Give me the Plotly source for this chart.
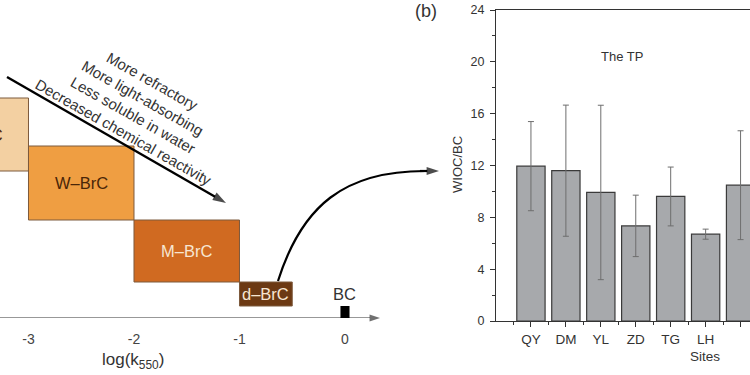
import plotly.graph_objects as go

W, H = 750, 375

# ---------------- Panel (a): BrC classes on a log(k550) scale ----------------
classes = ["VL–BrC", "W–BrC", "M–BrC", "d–BrC"]
logk_low = [-4.0, -3.0, -2.0, -1.0]
logk_high = [-3.0, -2.0, -1.0, -0.5]
level_low = [147, 98, 36, 12]      # schematic vertical stacking (arbitrary units)
level_high = [220, 172, 98, 36]
class_colors = ["#F3D0A2", "#EF9E42", "#D06A21", "#6C3913"]
label_colors = ["#4A2608", "#4A2608", "#F7E6D2", "#F7E6D2"]
bc_logk = 0.0
bc_half_width = 0.043
bc_height = 12
logk_ticks = [-3, -2, -1, 0]
trend_lines = ["More refractory", "More light-absorbing",
               "Less soluble in water", "Decreased chemical reactivity"]

# ---------------- Panel (b): WIOC/BC at TP sites ----------------
sites = ["QY", "DM", "YL", "ZD", "TG", "LH", "Dun"]
wioc_bc = [11.95, 11.6, 9.92, 7.34, 9.61, 6.70, 10.48]
wioc_bc_sd = [3.44, 5.06, 6.73, 2.37, 2.27, 0.39, 4.2]
y_ticks = [0, 4, 8, 12, 16, 20, 24]

FONT = "Liberation Sans, Arial, sans-serif"
TXT = "#333333"

PPU = 105.5                 # pixels per log unit in panel (a)
XMIN = -3.27
A_WIDTH = 450
XMAX = XMIN + A_WIDTH / PPU
YMAX_A = 318


def px(x, y):
    """pixel position -> paper coordinates"""
    return x / W, 1 - y / H


def ka(x, y):
    """pixel position -> panel (a) data coordinates"""
    return XMIN + x / PPU, YMAX_A - y


def note(**kw):
    base = dict(showarrow=False, xanchor="center", yanchor="middle")
    base.update(kw)
    return base


fig = go.Figure()

# log(k) axis with arrow
ax1 = ka(380, 318)
fig.add_trace(go.Scatter(x=[XMIN, ax1[0]], y=[0, 0], mode="lines+markers",
                         line=dict(color="#333333", width=1.2),
                         marker=dict(symbol=["circle", "arrow"], size=[0, 11], angleref="previous",
                                     color="#333333", line=dict(width=0)),
                         hoverinfo="skip", showlegend=False, xaxis="x", yaxis="y",
                         cliponaxis=False))

# trend arrow
t0 = ka(7, 77); t1 = ka(226, 203)
fig.add_trace(go.Scatter(x=[t0[0], t1[0]], y=[t0[1], t1[1]], mode="lines+markers",
                         line=dict(color="black", width=2.4),
                         marker=dict(symbol=["circle", "arrow"], size=[0, 14], angleref="previous",
                                     color="black", line=dict(width=0)),
                         hoverinfo="skip", showlegend=False, xaxis="x", yaxis="y",
                         cliponaxis=False))

# arrowhead of the curved connector
e1 = ka(439, 171); e0 = ka(420, 171)
fig.add_trace(go.Scatter(x=[e0[0], e1[0]], y=[e0[1], e1[1]], mode="lines+markers",
                         line=dict(color="black", width=2.2),
                         marker=dict(symbol=["circle", "arrow"], size=[0, 13], angleref="previous",
                                     color="black", line=dict(width=0)),
                         hoverinfo="skip", showlegend=False, xaxis="x", yaxis="y",
                         cliponaxis=False))

positions = list(range(len(sites)))
fig.add_trace(go.Bar(
    x=positions, y=wioc_bc, width=0.81,
    marker=dict(color="#A7A9AC", line=dict(color="#3A3A3A", width=1.2)),
    error_y=dict(type="data", array=wioc_bc_sd, visible=True,
                 color="#6E6E6E", thickness=1, width=3),
    xaxis="x2", yaxis="y2", showlegend=False, hoverinfo="skip"))

shapes = []
annotations = []

for name, lo, hi, ylo, yhi, col, lcol in zip(classes, logk_low, logk_high,
                                             level_low, level_high,
                                             class_colors, label_colors):
    shapes.append(dict(type="rect", xref="x", yref="y", x0=lo, x1=hi, y0=ylo, y1=yhi,
                       fillcolor=col, line=dict(color="#7D5A3C", width=1), layer="below"))
    xc = (lo + hi) / 2
    if xc < XMIN:
        annotations.append(note(xref="x", yref="y", x=XMIN, y=(ylo + yhi) / 2,
                                text=name, xanchor="right", xshift=5,
                                font=dict(size=16.5, color=lcol, family=FONT)))
    else:
        annotations.append(note(xref="x", yref="y", x=xc, y=(ylo + yhi) / 2,
                                text=name,
                                font=dict(size=16.5, color=lcol, family=FONT)))

# BC marker
shapes.append(dict(type="rect", xref="x", yref="y", x0=bc_logk - bc_half_width,
                   x1=bc_logk + bc_half_width, y0=0, y1=bc_height,
                   fillcolor="black", line=dict(width=0)))
annotations.append(note(xref="x", yref="y", x=bc_logk, y=bc_height, text="BC",
                        yanchor="bottom", yshift=1,
                        font=dict(size=16.5, color=TXT, family=FONT)))

lx, ly = px(133, 361)
annotations.append(note(xref="paper", yref="paper", x=lx, y=ly,
                        text="log(k<sub>550</sub>)",
                        font=dict(size=17, color=TXT, family=FONT)))

tx, ty = px(138, 107)
annotations.append(note(xref="paper", yref="paper", x=tx, y=ty,
                        text="<br>".join(trend_lines), textangle=29.5,
                        align="center", font=dict(size=15, color=TXT, family=FONT)))

# curved connector from d-BrC to panel (b)
p0 = ka(278, 281); c1 = ka(302, 205); c2 = ka(345, 171); p3 = ka(425, 171)
shapes.append(dict(type="path", xref="x", yref="y",
                   path=f"M {p0[0]},{p0[1]} C {c1[0]},{c1[1]} {c2[0]},{c2[1]} {p3[0]},{p3[1]}",
                   line=dict(color="black", width=2.2)))

# panel (b) texts
bx, by = px(426, 11)
annotations.append(note(xref="paper", yref="paper", x=bx, y=by, text="(b)",
                        font=dict(size=18, color=TXT, family=FONT)))
annotations.append(note(xref="x2", yref="y2", x=2.6, y=20.4, text="The TP",
                        font=dict(size=13, color=TXT, family=FONT)))
wx, wy = px(458, 165)
annotations.append(note(xref="paper", yref="paper", x=wx, y=wy, text="WIOC/BC",
                        textangle=-90, font=dict(size=13, color=TXT, family=FONT)))
sx, sy = px(705, 356)
annotations.append(note(xref="paper", yref="paper", x=sx, y=sy, text="Sites",
                        font=dict(size=13.5, color=TXT, family=FONT)))

fig.update_layout(
    width=W, height=H, autosize=False,
    margin=dict(l=0, r=0, t=0, b=0, pad=0),
    paper_bgcolor="white", plot_bgcolor="rgba(0,0,0,0)",
    font=dict(family=FONT, color=TXT),
    shapes=shapes, annotations=annotations,
    xaxis=dict(domain=[0, A_WIDTH / W], range=[XMIN, XMAX], anchor="y", automargin=False,
               showgrid=False, zeroline=False, showline=False, ticks="",
               tickmode="array", tickvals=logk_ticks, ticktext=[str(t) for t in logk_ticks],
               tickfont=dict(size=14, color="#444444"), ticklabelstandoff=11),
    yaxis=dict(domain=[1 - YMAX_A / H, 1], range=[0, YMAX_A], anchor="x", visible=False,
               automargin=False),
    xaxis2=dict(domain=[496 / W, 1], range=[-1, 6.27], anchor="y2", automargin=False,
                showgrid=False, zeroline=False, showline=True, mirror=True,
                linecolor="#333333", linewidth=1,
                tickmode="array", tickvals=positions, ticktext=sites,
                ticks="outside", ticklen=5, tickcolor="#333333",
                minor=dict(tickvals=[p - 0.5 for p in positions] + [positions[-1] + 0.5],
                           ticks="outside", ticklen=3, tickcolor="#333333"),
                tickfont=dict(size=13.5, color=TXT), ticklabelstandoff=1),
    yaxis2=dict(domain=[1 - 321 / H, 1 - 10 / H], range=[0, 24], anchor="x2", automargin=False,
                showgrid=False, zeroline=False, showline=True, linecolor="#333333",
                linewidth=1, tickmode="array", tickvals=y_ticks,
                ticks="outside", ticklen=5, tickcolor="#333333",
                minor=dict(dtick=2, ticks="outside", ticklen=3, tickcolor="#333333"),
                tickfont=dict(size=12.5, color=TXT), ticklabelstandoff=3),
)

fig.write_html("out.html", config={"displayModeBar": False, "staticPlot": True},
               post_script="document.body.style.margin='0px';")
